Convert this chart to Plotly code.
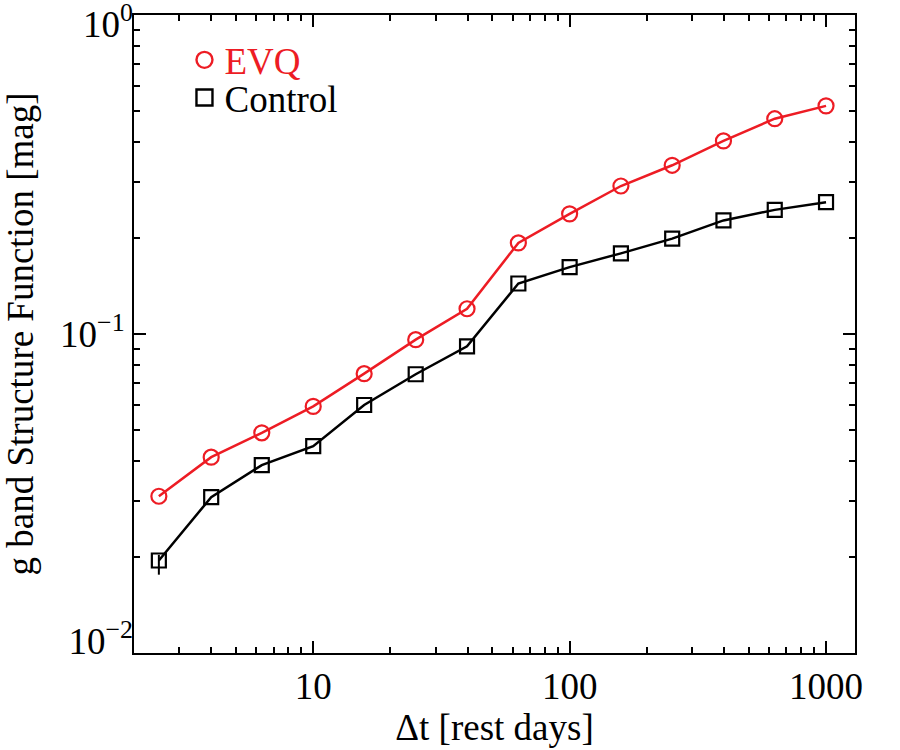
import plotly.graph_objects as go

# Time lags (rest-frame days)
dt_days = [2.5, 4.0, 6.3, 10.0, 15.8, 25.1, 39.8, 63.1, 100.0, 158.5, 251.2, 398.1, 631.0, 1000.0]

# g band structure function [mag]
sf_evq = [0.0310, 0.0411, 0.0490, 0.0593, 0.0751, 0.0960, 0.120, 0.193, 0.238, 0.291, 0.338, 0.403, 0.473, 0.519]
sf_control = [0.0195, 0.0308, 0.0388, 0.0445, 0.0599, 0.0748, 0.0915, 0.144, 0.162, 0.179, 0.199, 0.227, 0.245, 0.259]

# error bar on first control point only (others negligible)
err_control_plus = [0.0008, 0, 0, 0, 0, 0, 0, 0, 0, 0, 0, 0, 0, 0]
err_control_minus = [0.0019, 0, 0, 0, 0, 0, 0, 0, 0, 0, 0, 0, 0, 0]

series_names = ["EVQ", "Control"]

# tick positions / labels
x_major = [10, 100, 1000]
x_major_text = ["10", "100", "1000"]
x_minor = [2, 3, 4, 5, 6, 7, 8, 9, 20, 30, 40, 50, 60, 70, 80, 90, 200, 300, 400, 500, 600, 700, 800, 900]
y_major = [0.01, 0.1, 1]
y_major_text = ["10<sup>−2</sup>", "10<sup>−1</sup>", "10<sup>0</sup>"]
y_minor = [0.02, 0.03, 0.04, 0.05, 0.06, 0.07, 0.08, 0.09, 0.2, 0.3, 0.4, 0.5, 0.6, 0.7, 0.8, 0.9]

RED = "#ed1c24"
BLACK = "#000000"
FONT = "Liberation Serif"
TICK_SIZE = 37
TITLE_SIZE = 37
Y_RANGE = [-2, 0]

fig = go.Figure()

fig.add_trace(go.Scatter(
    x=dt_days, y=sf_control, mode="lines+markers", name=series_names[1],
    line=dict(color=BLACK, width=2.5),
    marker=dict(symbol="square-open", size=14, color=BLACK, line=dict(width=2.2)),
    error_y=dict(type="data", array=err_control_plus, arrayminus=err_control_minus,
                 color=BLACK, thickness=2, width=0),
    showlegend=False,
))
fig.add_trace(go.Scatter(
    x=dt_days, y=sf_evq, mode="lines+markers", name=series_names[0],
    line=dict(color=RED, width=2.5),
    marker=dict(symbol="circle-open", size=15, color=RED, line=dict(width=2.2)),
    showlegend=False,
))

# legend entries (markers only, as in the reference)
fig.add_trace(go.Scatter(
    x=[None], y=[None], mode="markers", name=series_names[0], legend="legend",
    marker=dict(symbol="circle-open", size=19, color=RED, line=dict(width=2.4)),
))
fig.add_trace(go.Scatter(
    x=[None], y=[None], mode="markers", name=series_names[1], legend="legend2",
    marker=dict(symbol="square-open", size=18, color=BLACK, line=dict(width=2.4)),
))

# empty traces that attach the two end-label axes (nothing is drawn)
fig.add_trace(go.Scatter(x=[None], y=[None], yaxis="y2", showlegend=False, hoverinfo="skip"))
fig.add_trace(go.Scatter(x=[None], y=[None], yaxis="y3", showlegend=False, hoverinfo="skip"))

axis_common = dict(
    type="log",
    automargin=False,
    showgrid=False,
    zeroline=False,
    showline=True,
    linecolor="black",
    linewidth=2,
    mirror="ticks",
    ticks="inside",
    ticklen=12,
    tickwidth=2,
    tickcolor="black",
    ticklabeloverflow="allow",
)

fig.update_layout(xaxis=dict(
    **axis_common,
    range=[0.301, 3.113],
    tickmode="array",
    tickvals=x_major,
    ticktext=x_major_text,
    tickfont=dict(family=FONT, size=TICK_SIZE, color="black"),
    minor=dict(tickmode="array", tickvals=x_minor, ticks="inside", ticklen=6,
               tickwidth=2, tickcolor="black", showgrid=False),
    title=dict(text="Δt [rest days]",
               font=dict(family=FONT, size=TITLE_SIZE, color="black"), standoff=2),
))

# main y axis: frame, ticks and the middle label
fig.update_layout(yaxis=dict(
    **axis_common,
    range=Y_RANGE,
    tickmode="array",
    tickvals=[y_major[1]],
    ticktext=[y_major_text[1]],
    tickfont=dict(family=FONT, size=TICK_SIZE, color="black"),
    minor=dict(tickmode="array", tickvals=y_minor, ticks="inside", ticklen=6,
               tickwidth=2, tickcolor="black", showgrid=False),
    title=dict(text="g band Structure Function [mag]",
               font=dict(family=FONT, size=TITLE_SIZE, color="black"), standoff=16),
))

# end labels nudged inside the frame (as in the reference)
label_axis = dict(
    type="log", automargin=False, overlaying="y", side="left", anchor="x",
    range=Y_RANGE, showgrid=False, zeroline=False, showline=False, ticks="",
    tickmode="array", ticklabeloverflow="allow",
    tickfont=dict(family=FONT, size=TICK_SIZE, color="black"),
)
fig.update_layout(
    yaxis2=dict(**label_axis, tickvals=[y_major[2]], ticktext=[y_major_text[2]], ticklabelshift=9),
    yaxis3=dict(**label_axis, tickvals=[y_major[0]], ticktext=[y_major_text[0]], ticklabelshift=-12),
)

fig.update_layout(
    width=900, height=750,
    margin=dict(l=134, r=45, t=15, b=97),
    paper_bgcolor="white",
    plot_bgcolor="white",
    font=dict(family=FONT, color="black"),
    legend=dict(x=0.07, y=0.929, xanchor="left", yanchor="middle",
                font=dict(family=FONT, size=TITLE_SIZE, color=RED),
                bgcolor="rgba(0,0,0,0)", itemwidth=30),
    legend2=dict(x=0.07, y=0.870, xanchor="left", yanchor="middle",
                 font=dict(family=FONT, size=TITLE_SIZE, color=BLACK),
                 bgcolor="rgba(0,0,0,0)", itemwidth=30),
)

fig.write_html("out.html")
